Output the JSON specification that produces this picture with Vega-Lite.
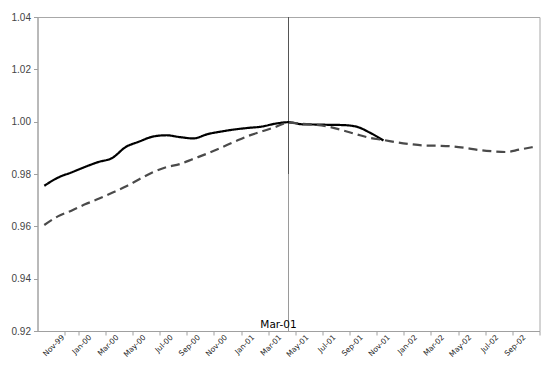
{
  "$schema": "https://vega.github.io/schema/vega-lite/v6.json",
  "width": 502,
  "height": 314,
  "padding": {"left": 10.5, "top": 12, "right": 0, "bottom": 0},
  "background": "white",
  "config": {
    "view": {"stroke": "#a8a8a8", "strokeWidth": 1},
    "axis": {"grid": false, "domainColor": "#a0a0a0", "tickColor": "#a0a0a0", "title": null}
  },
  "datasets": {
    "series": [
      {"month": "Sep-99", "series": "A", "value": 0.9755},
      {"month": "Oct-99", "series": "A", "value": 0.9786},
      {"month": "Nov-99", "series": "A", "value": 0.9806},
      {"month": "Dec-99", "series": "A", "value": 0.9827},
      {"month": "Jan-00", "series": "A", "value": 0.9846},
      {"month": "Feb-00", "series": "A", "value": 0.9861},
      {"month": "Mar-00", "series": "A", "value": 0.9903},
      {"month": "Apr-00", "series": "A", "value": 0.9924},
      {"month": "May-00", "series": "A", "value": 0.9943},
      {"month": "Jun-00", "series": "A", "value": 0.9948},
      {"month": "Jul-00", "series": "A", "value": 0.9941},
      {"month": "Aug-00", "series": "A", "value": 0.9936},
      {"month": "Sep-00", "series": "A", "value": 0.9952},
      {"month": "Oct-00", "series": "A", "value": 0.9962},
      {"month": "Nov-00", "series": "A", "value": 0.9970},
      {"month": "Dec-00", "series": "A", "value": 0.9976},
      {"month": "Jan-01", "series": "A", "value": 0.9981},
      {"month": "Feb-01", "series": "A", "value": 0.9992},
      {"month": "Mar-01", "series": "A", "value": 0.9998},
      {"month": "Apr-01", "series": "A", "value": 0.9990},
      {"month": "May-01", "series": "A", "value": 0.9989},
      {"month": "Jun-01", "series": "A", "value": 0.9988},
      {"month": "Jul-01", "series": "A", "value": 0.9987},
      {"month": "Aug-01", "series": "A", "value": 0.9981},
      {"month": "Sep-01", "series": "A", "value": 0.9958},
      {"month": "Oct-01", "series": "A", "value": 0.9928},
      {"month": "Sep-99", "series": "B", "value": 0.9605},
      {"month": "Oct-99", "series": "B", "value": 0.9638},
      {"month": "Nov-99", "series": "B", "value": 0.9660},
      {"month": "Dec-99", "series": "B", "value": 0.9684},
      {"month": "Jan-00", "series": "B", "value": 0.9705},
      {"month": "Feb-00", "series": "B", "value": 0.9728},
      {"month": "Mar-00", "series": "B", "value": 0.9752},
      {"month": "Apr-00", "series": "B", "value": 0.9780},
      {"month": "May-00", "series": "B", "value": 0.9807},
      {"month": "Jun-00", "series": "B", "value": 0.9826},
      {"month": "Jul-00", "series": "B", "value": 0.9838},
      {"month": "Aug-00", "series": "B", "value": 0.9858},
      {"month": "Sep-00", "series": "B", "value": 0.9878},
      {"month": "Oct-00", "series": "B", "value": 0.9900},
      {"month": "Nov-00", "series": "B", "value": 0.9923},
      {"month": "Dec-00", "series": "B", "value": 0.9945},
      {"month": "Jan-01", "series": "B", "value": 0.9962},
      {"month": "Feb-01", "series": "B", "value": 0.9979},
      {"month": "Mar-01", "series": "B", "value": 0.9996},
      {"month": "Apr-01", "series": "B", "value": 0.9992},
      {"month": "May-01", "series": "B", "value": 0.9988},
      {"month": "Jun-01", "series": "B", "value": 0.9980},
      {"month": "Jul-01", "series": "B", "value": 0.9967},
      {"month": "Aug-01", "series": "B", "value": 0.9952},
      {"month": "Sep-01", "series": "B", "value": 0.9938},
      {"month": "Oct-01", "series": "B", "value": 0.9930},
      {"month": "Nov-01", "series": "B", "value": 0.9921},
      {"month": "Dec-01", "series": "B", "value": 0.9914},
      {"month": "Jan-02", "series": "B", "value": 0.9909},
      {"month": "Feb-02", "series": "B", "value": 0.9908},
      {"month": "Mar-02", "series": "B", "value": 0.9906},
      {"month": "Apr-02", "series": "B", "value": 0.9900},
      {"month": "May-02", "series": "B", "value": 0.9892},
      {"month": "Jun-02", "series": "B", "value": 0.9887},
      {"month": "Jul-02", "series": "B", "value": 0.9884},
      {"month": "Aug-02", "series": "B", "value": 0.9893},
      {"month": "Sep-02", "series": "B", "value": 0.9903}
    ],
    "marker": [
      {"month": "Mar-01", "label": "Mar-01", "bottom": 0.92, "mid": 0.98, "top": 1.04}
    ]
  },
  "resolve": {"axis": {"x": "independent"}},
  "layer": [
    {
      "data": {"name": "marker"},
      "mark": {"type": "rule", "color": "#9a9a9a", "strokeWidth": 1},
      "encoding": {
        "x": {"field": "month", "type": "ordinal", "bandPosition": 0.5,
          "sort": ["Sep-99","Oct-99","Nov-99","Dec-99","Jan-00","Feb-00","Mar-00","Apr-00","May-00","Jun-00","Jul-00","Aug-00","Sep-00","Oct-00","Nov-00","Dec-00","Jan-01","Feb-01","Mar-01","Apr-01","May-01","Jun-01","Jul-01","Aug-01","Sep-01","Oct-01","Nov-01","Dec-01","Jan-02","Feb-02","Mar-02","Apr-02","May-02","Jun-02","Jul-02","Aug-02","Sep-02"],
          "scale": {"type": "band", "paddingInner": 0, "paddingOuter": 0},
          "axis": {
            "orient": "bottom",
            "values": ["Sep-99","Nov-99","Jan-00","Mar-00","May-00","Jul-00","Sep-00","Nov-00","Jan-01","Mar-01","May-01","Jul-01","Sep-01","Nov-01","Jan-02","Mar-02","May-02","Jul-02","Sep-02"],
            "tickBand": "extent",
            "tickSize": 4,
            "labels": false,
            "domain": false
          }
        },
        "y": {"field": "bottom", "type": "quantitative", "scale": {"domain": [0.92, 1.04], "nice": false, "zero": false}},
        "y2": {"field": "mid"}
      }
    },
    {
      "data": {"name": "marker"},
      "mark": {"type": "rule", "color": "#555555", "strokeWidth": 1},
      "encoding": {
        "x": {"field": "month", "type": "ordinal", "bandPosition": 0.5, "axis": null,
          "sort": ["Sep-99","Oct-99","Nov-99","Dec-99","Jan-00","Feb-00","Mar-00","Apr-00","May-00","Jun-00","Jul-00","Aug-00","Sep-00","Oct-00","Nov-00","Dec-00","Jan-01","Feb-01","Mar-01","Apr-01","May-01","Jun-01","Jul-01","Aug-01","Sep-01","Oct-01","Nov-01","Dec-01","Jan-02","Feb-02","Mar-02","Apr-02","May-02","Jun-02","Jul-02","Aug-02","Sep-02"]},
        "y": {"field": "mid", "type": "quantitative"},
        "y2": {"field": "top"}
      }
    },
    {
      "data": {"name": "series"},
      "mark": {"type": "line", "strokeWidth": 2.2, "interpolate": "monotone"},
      "encoding": {
        "x": {"field": "month", "type": "ordinal", "bandPosition": 0.5,
          "sort": ["Sep-99","Oct-99","Nov-99","Dec-99","Jan-00","Feb-00","Mar-00","Apr-00","May-00","Jun-00","Jul-00","Aug-00","Sep-00","Oct-00","Nov-00","Dec-00","Jan-01","Feb-01","Mar-01","Apr-01","May-01","Jun-01","Jul-01","Aug-01","Sep-01","Oct-01","Nov-01","Dec-01","Jan-02","Feb-02","Mar-02","Apr-02","May-02","Jun-02","Jul-02","Aug-02","Sep-02"],
          "axis": {
            "orient": "bottom",
            "values": ["Sep-99","Nov-99","Jan-00","Mar-00","May-00","Jul-00","Sep-00","Nov-00","Jan-01","Mar-01","May-01","Jul-01","Sep-01","Nov-01","Jan-02","Mar-02","May-02","Jul-02","Sep-02"],
            "ticks": false,
            "labelAngle": -45,
            "labelAlign": "right",
            "labelBaseline": "middle",
            "labelOffset": -8,
            "labelPadding": 5,
            "labelFont": "DejaVu Sans",
            "labelFontSize": 7.5,
            "labelColor": "#222222"
          }
        },
        "y": {
          "field": "value", "type": "quantitative",
          "axis": {
            "values": [0.92, 0.94, 0.96, 0.98, 1.0, 1.02, 1.04],
            "format": ".2f",
            "tickSize": 4,
            "labelPadding": 3,
            "labelFont": "Liberation Sans",
            "labelFontSize": 10,
            "labelColor": "#444444"
          }
        },
        "color": {"field": "series", "type": "nominal", "scale": {"domain": ["A", "B"], "range": ["#000000", "#4a4a4a"]}, "legend": null},
        "strokeDash": {"field": "series", "type": "nominal", "scale": {"domain": ["A", "B"], "range": [[1, 0], [9, 5]]}, "legend": null}
      }
    },
    {
      "data": {"name": "marker"},
      "mark": {"type": "text", "font": "DejaVu Sans", "fontSize": 10.5, "align": "center", "baseline": "alphabetic", "dx": -10, "dy": -3, "color": "#000000"},
      "encoding": {
        "x": {"field": "month", "type": "ordinal", "bandPosition": 0.5, "axis": null,
          "sort": ["Sep-99","Oct-99","Nov-99","Dec-99","Jan-00","Feb-00","Mar-00","Apr-00","May-00","Jun-00","Jul-00","Aug-00","Sep-00","Oct-00","Nov-00","Dec-00","Jan-01","Feb-01","Mar-01","Apr-01","May-01","Jun-01","Jul-01","Aug-01","Sep-01","Oct-01","Nov-01","Dec-01","Jan-02","Feb-02","Mar-02","Apr-02","May-02","Jun-02","Jul-02","Aug-02","Sep-02"]},
        "y": {"field": "bottom", "type": "quantitative"},
        "text": {"field": "label"}
      }
    }
  ]
}
